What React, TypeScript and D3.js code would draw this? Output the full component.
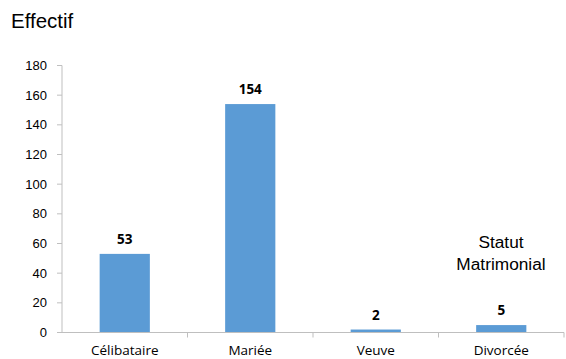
import React from "react";
import * as d3 from "d3";

const categories = ["Célibataire", "Mariée", "Veuve", "Divorcée"];
const values = [53, 154, 2, 5];
const yTicks = [0, 20, 40, 60, 80, 100, 120, 140, 160, 180];

const W = 566, H = 359;
const left = 62, right = 564, top = 65.5, bottom = 332.5;

export default function App() {
  const x = d3.scaleBand<string>().domain(categories).range([left, right]).paddingInner(0).paddingOuter(0);
  const y = d3.scaleLinear().domain([0, 180]).range([bottom, top]);
  const bw = x.bandwidth() * 0.4;
  const axisColor = "#BFBFBF";
  const boundaries = categories.map((c) => (x(c) as number) + x.bandwidth());
  return (
    <svg width={W} height={H} style={{ position: "absolute", left: 0, top: 0 }}>
      <rect width={W} height={H} fill="#fff" />
      <text x={11} y={28} fontFamily="Liberation Sans, Arial, sans-serif" fontSize={20.5} fill="#000">Effectif</text>
      {/* y axis */}
      <line x1={left} x2={left} y1={top} y2={bottom} stroke={axisColor} />
      {yTicks.map((t) => (
        <g key={t}>
          <line x1={left - 5} x2={left} y1={y(t)} y2={y(t)} stroke={axisColor} />
          <text x={47} y={y(t)} dy="0.35em" textAnchor="end" fontFamily="Liberation Sans, Arial, sans-serif" fontSize={13} fill="#000">{t}</text>
        </g>
      ))}
      {/* bars */}
      {categories.map((c, i) => {
        const cx = (x(c) as number) + x.bandwidth() / 2;
        return (
          <g key={c}>
            <rect x={cx - bw / 2} y={y(values[i])} width={bw} height={bottom - y(values[i])} fill="#5B9BD5" />
            <text x={cx} y={y(values[i]) - 10} textAnchor="middle" fontFamily="Open Sans, sans-serif" fontWeight="bold" fontSize={13.5} fill="#000">{values[i]}</text>
            <text x={cx} y={355} textAnchor="middle" fontFamily="Open Sans, sans-serif" fontSize={13.5} fill="#000">{c}</text>
          </g>
        );
      })}
      {/* x axis */}
      <line x1={left - 5} x2={right} y1={bottom} y2={bottom} stroke={axisColor} />
      {boundaries.map((b, i) => (
        <line key={i} x1={b} x2={b} y1={bottom} y2={bottom + 5} stroke={axisColor} />
      ))}
      <text x={501} y={248} textAnchor="middle" fontFamily="Liberation Sans, Arial, sans-serif" fontSize={17.3} fill="#000">Statut</text>
      <text x={501} y={269.5} textAnchor="middle" fontFamily="Liberation Sans, Arial, sans-serif" fontSize={17.3} fill="#000">Matrimonial</text>
    </svg>
  );
}
